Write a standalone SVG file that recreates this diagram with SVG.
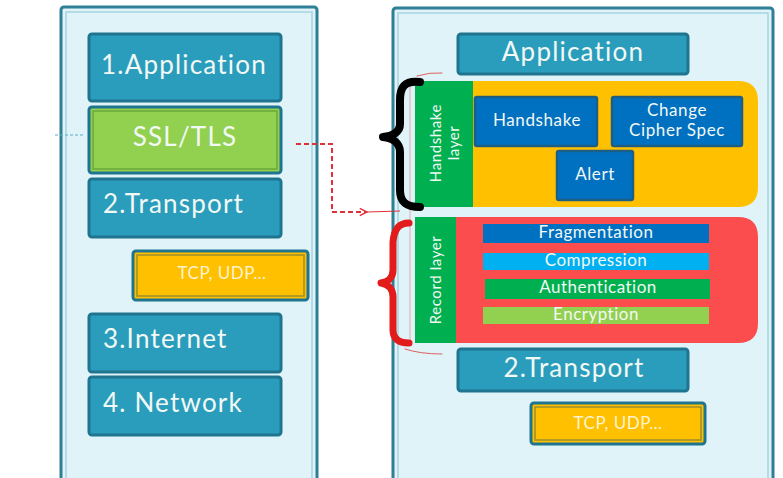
<svg xmlns="http://www.w3.org/2000/svg" width="783" height="478" viewBox="0 0 783 478">
<defs>
<style>
.panel{fill:#dff3f8;stroke:#2f7f96;stroke-width:3}
.pin{fill:none;stroke:#a6d5e0;stroke-width:1.5}
.box{fill:#2a9dbd;stroke:#1f7490;stroke-width:3}
.t{font-family:Lato,"Open Sans",sans-serif;fill:#f2f8f4}
.big{font-size:26px;letter-spacing:1.2px}
.mid{font-size:17px;letter-spacing:0.6px}
.sm{font-size:17px;letter-spacing:0.5px}
.tcp{font-size:17px;letter-spacing:0.5px;fill:#fdf3d0}
.vt{font-size:15px;letter-spacing:0.6px}
.hb{fill:#0070c0;stroke:#1d5f84;stroke-width:2.5}
.bar{stroke:none}
</style>
<marker id="ah" viewBox="0 0 10 10" refX="9" refY="5" markerWidth="9" markerHeight="9" markerUnits="userSpaceOnUse" orient="auto">
<path d="M1,1 L9,5 L1,9" fill="none" stroke="#e0303a" stroke-width="1.6"/>
</marker>
</defs>
<rect width="783" height="478" fill="#ffffff"/>

<g id="left-panel">
<rect class="panel" x="61" y="7" width="256" height="480" rx="3"/>
<rect class="pin" x="66" y="12" width="246" height="470"/>
</g>
<g id="l-app">
<rect class="box" x="89" y="34" width="192" height="67" rx="3"/>
<text class="t big" x="184" y="74" text-anchor="middle">1.Application</text>
</g>
<g id="l-ssl">
<rect x="89" y="107" width="192" height="66" rx="3" fill="#92d050" stroke="#1f7490" stroke-width="3"/>
<rect x="93" y="111" width="184" height="58" fill="none" stroke="#6aa83a" stroke-width="1.5"/>
<text class="t big" x="185" y="146" text-anchor="middle">SSL/TLS</text>
</g>
<g id="l-transport">
<rect class="box" x="89" y="179" width="192" height="58" rx="3"/>
<text class="t big" x="103" y="213">2.Transport</text>
</g>
<g id="l-tcp">
<rect x="133" y="251" width="175" height="49" rx="3" fill="#ffc000" stroke="#1f7490" stroke-width="3"/>
<rect x="137" y="255" width="167" height="41" fill="none" stroke="#9a8f2e" stroke-width="1.5"/>
<text class="t tcp" x="222" y="279" text-anchor="middle">TCP, UDP…</text>
</g>
<g id="l-internet">
<rect class="box" x="89" y="314" width="192" height="58" rx="3"/>
<text class="t big" x="103" y="348">3.Internet</text>
</g>
<g id="l-network">
<rect class="box" x="89" y="377" width="192" height="58" rx="3"/>
<text class="t big" x="103" y="412">4. Network</text>
</g>

<g id="right-panel">
<rect class="panel" x="393" y="8" width="380" height="480" rx="3"/>
<rect class="pin" x="398" y="13" width="370" height="470"/>
</g>
<g id="r-app">
<rect class="box" x="458" y="34" width="230" height="40" rx="3"/>
<text class="t big" x="573" y="61" text-anchor="middle">Application</text>
</g>
<g id="handshake-layer">
<path d="M415,81 H738 Q758,81 758,101 V187 Q758,207 738,207 H415 Z" fill="#ffc000"/>
<rect x="415" y="81" width="58" height="126" fill="#00b050"/>
<text class="t vt" transform="translate(441,143) rotate(-90)" text-anchor="middle">Handshake</text>
<text class="t vt" transform="translate(459,143) rotate(-90)" text-anchor="middle">layer</text>
</g>
<g id="handshake">
<rect class="hb" x="475" y="97" width="122" height="49" rx="2"/>
<text class="t mid" x="537" y="126" text-anchor="middle">Handshake</text>
</g>
<g id="ccs">
<rect class="hb" x="612" y="97" width="130" height="49" rx="2"/>
<text class="t mid" x="677" y="116" text-anchor="middle">Change</text>
<text class="t mid" x="677" y="136" text-anchor="middle">Cipher Spec</text>
</g>
<g id="alert">
<rect class="hb" x="557" y="151" width="76" height="49" rx="2"/>
<text class="t mid" x="595" y="180" text-anchor="middle">Alert</text>
</g>
<g id="record-layer">
<path d="M415,217 H738 Q758,217 758,237 V323 Q758,343 738,343 H415 Z" fill="#fb4d4d"/>
<rect x="415" y="217" width="41" height="126" fill="#00b050"/>
<text class="t vt" transform="translate(441,280) rotate(-90)" text-anchor="middle">Record layer</text>
</g>
<g id="fragmentation">
<rect class="bar" x="483" y="224" width="226" height="19" fill="#0070c0"/>
<text class="t sm" x="596" y="238" text-anchor="middle">Fragmentation</text>
</g>
<g id="compression">
<rect class="bar" x="483" y="253" width="226" height="17" fill="#00b0f0"/>
<text class="t sm" x="596" y="266" text-anchor="middle">Compression</text>
</g>
<g id="authentication">
<rect class="bar" x="485" y="279" width="225" height="20" fill="#00b050"/>
<text class="t sm" x="598" y="293" text-anchor="middle">Authentication</text>
</g>
<g id="encryption">
<rect class="bar" x="483" y="307" width="226" height="17" fill="#92d050"/>
<text class="t sm" x="596" y="320" text-anchor="middle">Encryption</text>
</g>
<g id="r-transport">
<rect class="box" x="458" y="349" width="230" height="42" rx="3"/>
<text class="t big" x="574" y="377" text-anchor="middle">2.Transport</text>
</g>
<g id="r-tcp">
<rect x="531" y="403" width="174" height="41" rx="3" fill="#ffc000" stroke="#1f7490" stroke-width="3"/>
<rect x="535" y="407" width="166" height="33" fill="none" stroke="#9a8f2e" stroke-width="1.5"/>
<text class="t tcp" x="618" y="429" text-anchor="middle">TCP, UDP…</text>
</g>

<g id="annotations" fill="none" stroke-linecap="round" stroke-linejoin="round">
<path d="M417,76 Q430,72 442,73" stroke="#e06060" stroke-width="1"/>
<path d="M410,80 V345" stroke="#e08080" stroke-width="1" opacity="0.6"/>
<path d="M405,349 Q420,354 442,354" stroke="#e06060" stroke-width="1"/>
<path d="M420,82 C404,80 400,88 400,100 L400,124 C400,132 393,136 383,137 C393,138 400,143 400,152 L400,190 C400,201 405,207 420,207" stroke="#000000" stroke-width="8"/>
<path d="M409,223 C398,223 394,230 393,242 L393,270 C393,278 388,282 381,283 C388,284 393,289 393,297 L393,330 C393,338 398,343 409,343" stroke="#e21b1b" stroke-width="7"/>
</g>

<g id="connectors" fill="none">
<path d="M55,135 H83" stroke="#5aaec4" stroke-width="1.2" stroke-dasharray="3,2"/>
<path d="M296,144 H332 V212 H367" stroke="#e0303a" stroke-width="2" stroke-dasharray="5,3" marker-end="url(#ah)"/>
<path d="M367,212 L400,211" stroke="#e0303a" stroke-width="1"/>
</g>
</svg>
